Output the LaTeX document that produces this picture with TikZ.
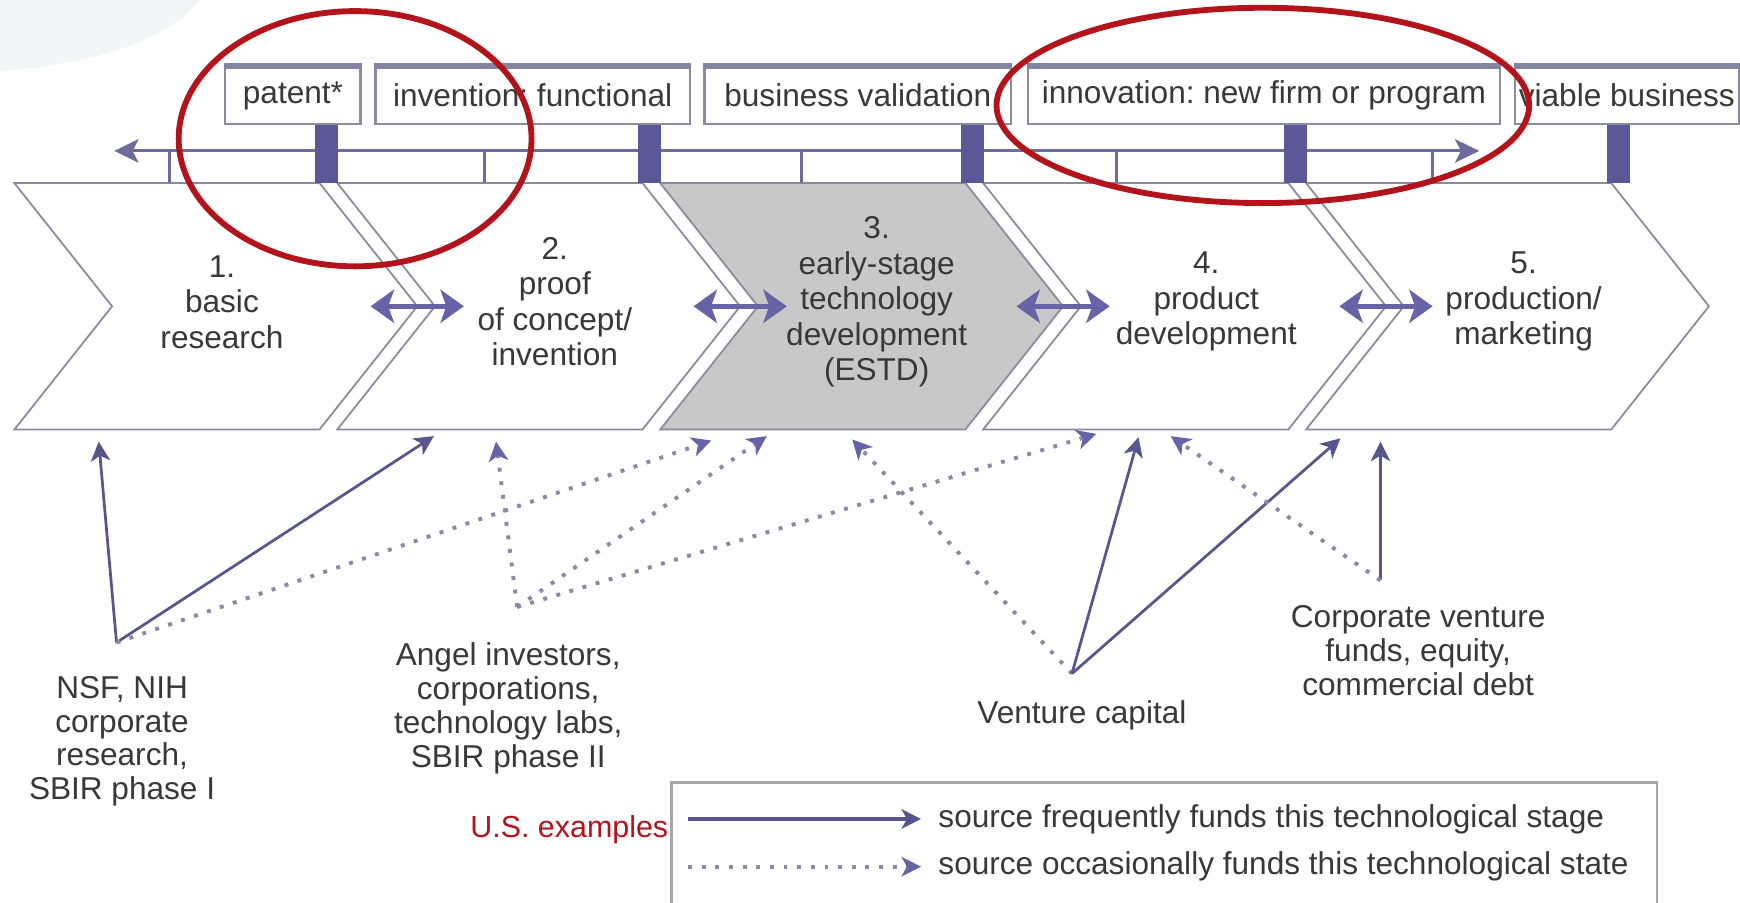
\documentclass[tikz,border=0pt]{standalone}
\usepackage{fontspec}
\setmainfont{Liberation Sans}
\usetikzlibrary{arrows.meta}
\usetikzlibrary{positioning}
\frenchspacing

\definecolor{chevline}{HTML}{8A8A9C}
\definecolor{purp}{HTML}{6664A6}
\definecolor{bardark}{HTML}{5A5896}
\definecolor{estdgray}{HTML}{C8C8C8}
\definecolor{markred}{HTML}{B3141B}
\definecolor{txtgray}{HTML}{383838}
\definecolor{dotc}{HTML}{8A8AA2}
\definecolor{boxline}{HTML}{8C8CA0}
\definecolor{wmark}{HTML}{F3F5F7}

\begin{document}
\begin{tikzpicture}[x=0.1mm, y=-0.1mm,
    chevron/.style={draw=chevline, line width=0.45pt},
    stagetxt/.style={align=center, text=txtgray, inner sep=0pt, font=\fontsize{8.1}{9.1}\selectfont},
    srctxt/.style={align=center, text=txtgray, inner sep=0pt, font=\fontsize{8.1}{8.7}\selectfont},
    legtxt/.style={text=txtgray, inner sep=0pt, font=\fontsize{8.1}{9}\selectfont},
    milebox/.style={draw=boxline, line width=0.6pt, fill=white, minimum height=5.1mm, inner sep=0pt, text=txtgray, font=\fontsize{8.1}{9}\selectfont},
    boxtop/.style={draw=boxline!80!purp, line width=1.4pt},
    tline/.style={draw=purp!70!gray, line width=0.8pt},
    timearrow/.style={{Stealth[length=6.2pt,width=6pt,inset=1.5pt]}-{Stealth[length=6.2pt,width=6pt,inset=1.5pt]}},
    junction/.style={draw=purp, line width=1.2pt, {Stealth[length=6pt,width=8.5pt,inset=1.5pt]}-{Stealth[length=6pt,width=8.5pt,inset=1.5pt]}},
    often/.style={draw=purp!85!black, line width=0.7pt, -{Stealth[length=5pt,width=5pt,inset=1.4pt]}},
    seldom/.style={draw=dotc, line width=1pt, dash pattern=on 1pt off 2.5pt, -{Stealth[length=5pt,width=5pt,inset=1.4pt,color=purp,fill=purp]}},
    markring/.style={draw=markred, line width=1.5pt}]

    % Page
    \fill[white] (0,0) rectangle (1568,813);
    \useasboundingbox (0,0) rectangle (1568,813);
    \fill[wmark] (0,0) -- (180,0) .. controls (150,38) and (80,58) .. (0,64) -- cycle;

    % Stages
    \foreach \k/\fillc in {0/white,1/white,2/estdgray,3/white,4/white} {
        \pgfmathsetmacro{\R}{288+291*\k}
        \pgfmathsetmacro{\L}{\R-275}
        \filldraw[chevron, fill=\fillc] (\L,165) -- (\R,165) -- ({\R+88},276) -- (\R,387) -- (\L,387) -- ({\L+88},276) -- cycle;
    }

    % Stage labels
    \node[stagetxt] (st1) at (200,272) {1.\\basic\\research};
    \node[stagetxt] (st2) at (500,272) {2.\\proof\\of concept/\\invention};
    \node[stagetxt] (st3) at (790,272) {3.\\early-stage\\technology\\development\\(ESTD)};
    \node[stagetxt] (st4) at (1087,272) {4.\\product\\development};
    \node[stagetxt] (st5) at (1373,272) {5.\\production/\\marketing};

    % Links between stages
    \foreach \k in {0,...,3} {
        \pgfmathsetmacro{\T}{288+291*\k+88}
        \coordinate (jl\k) at ({\T-42},276);
        \coordinate (jr\k) at ({\T+42},276);
        \draw[junction] (jl\k) -- (jr\k);
    }

    % Time line
    \foreach \x in {153,437,722,1006,1291} {
        \draw[tline] (\x,136) -- (\x,165);
    }
    \coordinate (tl-w) at (103,136);
    \coordinate (tl-e) at (1333,136);
    \draw[tline, timearrow] (tl-w) -- (tl-e);

    % Milestone bars
    \foreach \k in {0,...,4} {
        \pgfmathsetmacro{\R}{288+291*\k}
        \fill[bardark] ({\R-4},111) rectangle ({\R+17},165);
    }

    % Milestones
    \node[milebox, minimum width=12.2mm] (patent) at (264,86) {patent*};
    \node[milebox, minimum width=28.3mm] (invent) at (480,86) {invention: functional};
    \node[milebox, minimum width=27.6mm] (bizval) at (773,86) {business validation};
    \node[milebox, minimum width=42.5mm] (innov) at (1139,86) {innovation: new firm or program};
    \node[milebox, minimum width=20.2mm] (viable) at (1466,86) {viable business};
    \foreach \b in {patent,invent,bizval,innov,viable} {
        \draw[boxtop] (\b.north west) -- (\b.north east);
    }

    % Funding sources
    \node[srctxt] (nsf) at (110,668) {NSF, NIH\\corporate\\research,\\SBIR phase I};
    \node[srctxt] (angel) at (458,638) {Angel investors,\\corporations,\\technology labs,\\SBIR phase II};
    \node[srctxt] (vc) at (975,645) {Venture capital};
    \node[srctxt] (corp) at (1278,586) {Corporate venture\\funds, equity,\\commercial debt};

    \coordinate (nsf-o) at (105,579);
    \coordinate (angel-o) at (466,547);
    \coordinate (vc-o) at (966,607);
    \coordinate (corp-o) at (1244,523);

    \coordinate (c1-a) at (89,398);
    \coordinate (c2-a) at (391,393);
    \coordinate (c2-b) at (447,398);
    \coordinate (c3-a) at (641,397);
    \coordinate (c3-b) at (691,393);
    \coordinate (c3-c) at (768,396);
    \coordinate (c4-a) at (988,391);
    \coordinate (c4-b) at (1026,394);
    \coordinate (c4-c) at (1055,393);
    \coordinate (c5-a) at (1208,395);
    \coordinate (c5-b) at (1244,398);

    \draw[often] (nsf-o) -- (c1-a);
    \draw[often] (nsf-o) -- (c2-a);
    \draw[seldom] (nsf-o) -- (c3-a);
    \draw[seldom] (angel-o) -- (c2-b);
    \draw[seldom] (angel-o) -- (c3-b);
    \draw[seldom] (angel-o) -- (c4-a);
    \draw[seldom] (vc-o) -- (c3-c);
    \draw[often] (vc-o) -- (c4-b);
    \draw[often] (vc-o) -- (c5-a);
    \draw[often] (corp-o) -- (c5-b);
    \draw[seldom] (corp-o) -- (c4-c);

    % Legend
    \draw[draw=gray!70, line width=0.6pt] (605,830) -- (605,705) -- (1493,705) -- (1493,830);
    \node[text=markred, inner sep=0pt, font=\fontsize{7.8}{9}\selectfont] (usex) at (513,748) {U.S. examples};
    \coordinate (lg-s1) at (620,738);
    \coordinate (lg-e1) at (830,738);
    \coordinate (lg-s2) at (620,781);
    \coordinate (lg-e2) at (830,781);
    \draw[often, line width=0.9pt] (lg-s1) -- (lg-e1);
    \draw[seldom] (lg-s2) -- (lg-e2);
    \node[legtxt, right=1.5mm of lg-e1] (lg-t1) {source frequently funds this technological stage};
    \node[legtxt, right=1.5mm of lg-e2] (lg-t2) {source occasionally funds this technological state};

    % Marks
    \draw[markring] (320,125) ellipse [x radius=15.9mm, y radius=11.5mm];
    \draw[markring] (1138,95) ellipse [x radius=24mm, y radius=8.8mm];

\end{tikzpicture}
\end{document}
